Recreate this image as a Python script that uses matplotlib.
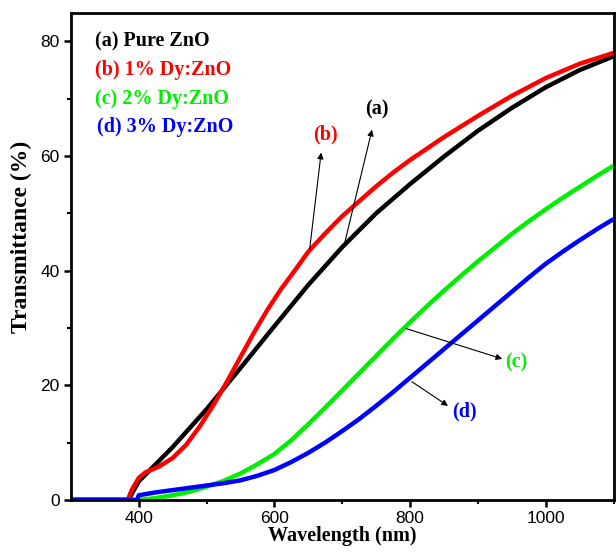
import matplotlib
matplotlib.use("Agg")
import matplotlib.pyplot as plt

# ---------- data ----------
wl_a = [300, 385, 392, 400, 450, 500, 550, 600, 650, 700, 750, 800, 850, 900, 950, 1000, 1050, 1100]
t_a = [0, 0, 1.5, 3.2, 9.2, 15.8, 23.0, 30.3, 37.5, 44.1, 50.0, 55.1, 59.9, 64.4, 68.4, 72.0, 75.0, 77.4]

wl_b = [300, 384, 390, 395, 400, 410, 430, 450, 470, 490, 510, 530, 550, 570, 590, 610, 630, 650,
        675, 700, 725, 750, 775, 800, 850, 900, 950, 1000, 1050, 1100]
t_b = [0, 0, 1.8, 2.8, 3.8, 4.8, 5.8, 7.3, 9.6, 12.8, 16.5, 20.6, 24.9, 29.2, 33.2, 36.8, 40.0, 43.3,
       46.5, 49.5, 52.1, 54.7, 57.1, 59.3, 63.3, 67.0, 70.5, 73.6, 76.1, 78.0]

wl_c = [300, 400, 425, 450, 475, 500, 525, 550, 575, 600, 625, 650, 675, 700, 725, 750, 775, 800,
        825, 850, 875, 900, 925, 950, 975, 1000, 1025, 1050, 1075, 1100]
t_c = [0, 0, 0.3, 0.8, 1.4, 2.3, 3.3, 4.6, 6.2, 8.0, 10.4, 13.2, 16.1, 19.1, 22.1, 25.1, 28.1, 31.0,
       33.8, 36.5, 39.1, 41.6, 44.0, 46.4, 48.6, 50.7, 52.7, 54.6, 56.5, 58.3]

wl_d = [300, 398, 400, 425, 450, 475, 500, 525, 550, 575, 600, 625, 650, 675, 700, 725, 750, 775,
        800, 825, 850, 875, 900, 925, 950, 975, 1000, 1025, 1050, 1075, 1100]
t_d = [0, 0, 0.8, 1.3, 1.7, 2.1, 2.5, 2.9, 3.4, 4.2, 5.2, 6.6, 8.2, 10.0, 12.0, 14.1, 16.4, 18.8,
       21.3, 23.8, 26.3, 28.8, 31.3, 33.8, 36.3, 38.8, 41.2, 43.3, 45.3, 47.2, 49.0]

legend_labels = ["(a) Pure ZnO", "(b) 1% Dy:ZnO", "(c) 2% Dy:ZnO", "(d) 3% Dy:ZnO"]
colors = ["black", "#ff0000", "#00ee00", "#0000ff"]

serif = "Liberation Serif"
sans = "Liberation Sans"

fig = plt.figure(figsize=(6.16, 5.56), dpi=100)
ax = fig.add_axes([0.115, 0.101, 0.881, 0.876])

for wl, t, c in zip([wl_a, wl_b, wl_c, wl_d], [t_a, t_b, t_c, t_d], colors):
    ax.plot(wl, t, color=c, lw=3.2, solid_capstyle="butt", solid_joinstyle="round")

ax.set_xlim(300, 1100)
ax.set_ylim(0, 85)
ax.set_xticks([400, 600, 800, 1000])
ax.set_xticks([500, 700, 900, 1100], minor=True)
ax.set_yticks([0, 20, 40, 60, 80])
ax.set_yticks([10, 30, 50, 70], minor=True)

for s in ax.spines.values():
    s.set_linewidth(2)
ax.tick_params(which="major", direction="out", length=5, width=1.8, labelsize=12.5, pad=3)
ax.tick_params(which="minor", direction="out", length=3, width=1.5)
for lab in ax.get_xticklabels() + ax.get_yticklabels():
    lab.set_fontfamily(sans)

ax.set_xlabel("Wavelength (nm)", fontfamily=serif, fontweight="bold", fontsize=14.5, labelpad=0)
ax.set_ylabel("Transmittance (%)", fontfamily=serif, fontweight="bold", fontsize=17)
ax.yaxis.set_label_coords(-0.072, 0.54)

# legend as coloured text
for i, (lab, c) in enumerate(zip(legend_labels, colors)):
    ax.text(335 + (3 if i == 3 else 0), 80 - 5.0 * i, lab, color=c, fontfamily=serif,
            fontweight="bold", fontsize=14.5, va="center", ha="left")

# arrows with labels
arrows = [
    ((704, 45.0), (744, 64.6), (751, 68.1), "(a)", colors[0]),
    ((652, 43.7), (669, 60.6), (676, 63.8), "(b)", colors[1]),
    ((794, 29.9), (936, 24.6), (957, 23.9), "(c)", colors[2]),
    ((803, 20.6), (856, 16.4), (880, 15.5), "(d)", colors[3]),
]
for start, end, pos, lab, c in arrows:
    ax.annotate("", xy=end, xytext=start,
                arrowprops=dict(arrowstyle="-|>", color="black", lw=0.8, mutation_scale=9,
                                shrinkA=0, shrinkB=0))
    ax.text(pos[0], pos[1], lab, color=c, fontfamily=serif, fontweight="bold",
            fontsize=14.5, ha="center", va="center")

fig.savefig("out.png", dpi=100)
